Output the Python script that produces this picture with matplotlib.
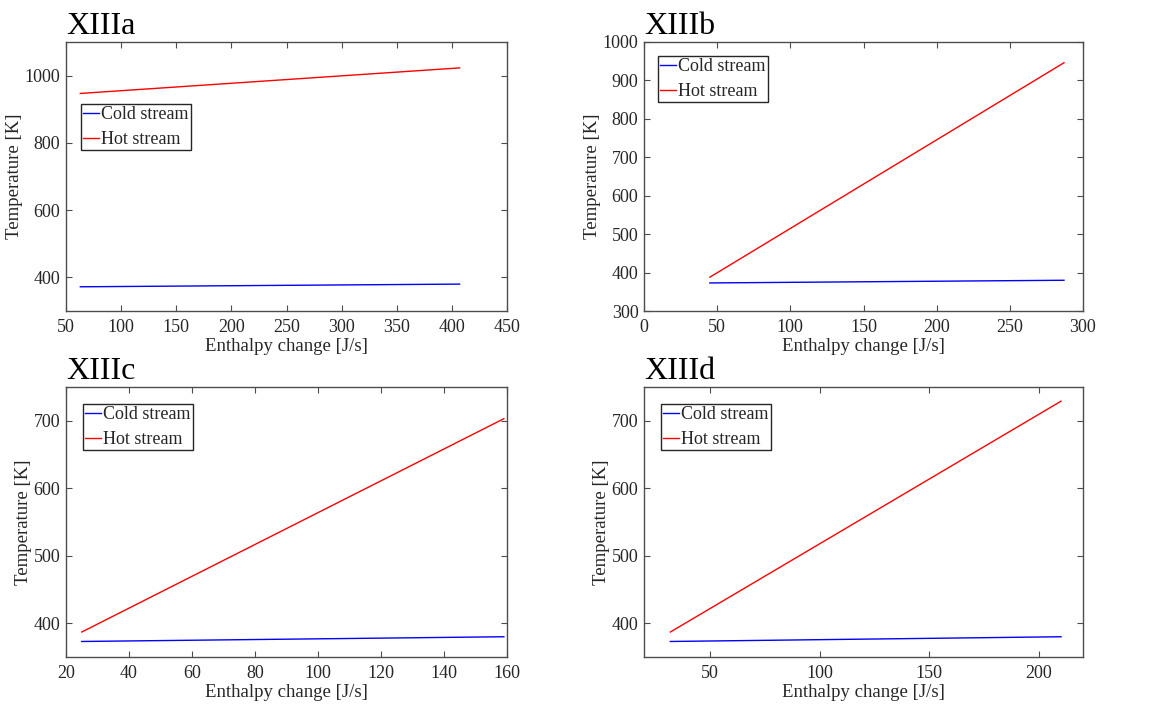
import numpy as np
import matplotlib
matplotlib.use("Agg")
import matplotlib.pyplot as plt

plt.rcParams['font.family'] = ['Liberation Serif', 'DejaVu Serif']
plt.rcParams['mathtext.fontset'] = 'stix'

# panel data (endpoints of the enthalpy-temperature lines)
panel_names = ['XIIIa', 'XIIIb', 'XIIIc', 'XIIId']
enthalpy_a = [63, 407]
enthalpy_b = [45, 287]
enthalpy_c = [25, 159]
enthalpy_d = [32, 210]
cold_a = [372, 380]
cold_b = [373, 380]
cold_c = [373, 380]
cold_d = [373, 380]
hot_a = [947, 1023]
hot_b = [388, 946]
hot_c = [387, 703]
hot_d = [387, 729]

xlims = [(50, 450), (0, 300), (20, 160), (20, 220)]
ylims = [(300, 1100), (300, 1000), (350, 750), (350, 750)]
xticks = [np.arange(50, 451, 50), np.arange(0, 301, 50),
          np.arange(20, 161, 20), np.arange(50, 201, 50)]
yticks = [np.arange(400, 1001, 200), np.arange(300, 1001, 100),
          np.arange(400, 701, 100), np.arange(400, 701, 100)]
legend_loc = [(0.034, 0.77), (0.032, 0.948), (0.038, 0.937), (0.038, 0.937)]

enthalpy = [enthalpy_a, enthalpy_b, enthalpy_c, enthalpy_d]
cold = [cold_a, cold_b, cold_c, cold_d]
hot = [hot_a, hot_b, hot_c, hot_d]

fig = plt.figure(figsize=(11.62, 7.08), dpi=100)
W, H = 1162., 708.
# axes boxes in pixels: left, top, right, bottom
boxes = [(66, 42, 507, 311), (644, 42, 1083, 311),
         (66, 387, 507, 657), (644, 387, 1083, 657)]

txt = '#262626'
edge = '#4d4d4d'

for i in range(4):
    l, t, r, b = boxes[i]
    ax = fig.add_axes([l / W, 1 - b / H, (r - l) / W, (b - t) / H])
    ax.plot(enthalpy[i], cold[i], color='#0000ff', lw=1.0, label='Cold stream')
    ax.plot(enthalpy[i], hot[i], color='#ff0000', lw=1.0, label='Hot stream')
    ax.set_xlim(*xlims[i])
    ax.set_ylim(*ylims[i])
    ax.set_xticks(xticks[i])
    ax.set_yticks(yticks[i])
    ax.tick_params(direction='in', top=True, right=True, length=4,
                   width=0.8, colors=edge, labelcolor=txt, labelsize=13,
                   pad=4)
    ax.tick_params(axis='x', pad=6)
    for s in ax.spines.values():
        s.set_color(edge)
        s.set_linewidth(1.0)
    ax.set_xlabel('Enthalpy change [J/s]', fontsize=13.5, color=txt, labelpad=1)
    ax.set_ylabel('Temperature [K]', fontsize=13.5, color=txt, labelpad=1)
    ax.set_title(panel_names[i], loc='left', fontsize=23, pad=6, color='black')
    leg = ax.legend(loc='upper left', bbox_to_anchor=legend_loc[i],
                    fontsize=13, handlelength=0.9, handletextpad=0.1,
                    borderpad=0.12, borderaxespad=0, labelspacing=0.45,
                    fancybox=False, framealpha=1, edgecolor='#262626')
    leg.get_frame().set_linewidth(1.0)
    for tx in leg.get_texts():
        tx.set_color(txt)

fig.savefig('out.png', dpi=100)
